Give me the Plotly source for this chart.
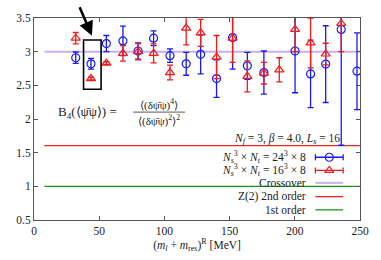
import plotly.graph_objects as go

# ---------------- data ----------------
mass_24 = [32, 43.7, 55.5, 68.2, 79.8, 91.7, 104.3, 116.7, 127.8, 140, 152.3, 163.6, 176.3, 200.2, 212.1, 223.7, 235.6, 247.7]
b4_24 = [2.91, 2.82, 3.12, 3.16, 3.01, 3.20, 2.94, 2.82, 2.96, 2.60, 3.21, 2.79, 2.69, 3.01, 2.67, 2.815, 3.33, 2.71]
err_24 = [0.085, 0.08, 0.12, 0.22, 0.12, 0.11, 0.10, 0.17, 0.29, 0.28, 0.47, 0.20, 0.32, 0.62, 0.50, 0.57, 1.72, 0.57]

mass_16 = [32, 43.7, 55.5, 68.2, 79.8, 91.7, 104.3, 116.7, 127.8, 140, 152.3, 163.6, 176.3, 188.1, 200.2, 212.1, 223.7, 235.6]
b4_16 = [3.20, 2.60, 2.83, 2.975, 3.00, 2.975, 2.69, 3.35, 3.28, 2.92, 3.20, 2.634, 2.68, 2.73, 3.33, 3.13, 2.965, 3.42]
err_16 = [0.085, 0.02, 0.02, 0.115, 0.12, 0.14, 0.11, 0.25, 0.20, 0.32, 0.36, 0.23, 0.16, 0.18, 0.33, 0.37, 0.16, 0.42]

ref_x = [8, 250]
crossover = 3.0
z2_second = 1.604
first_order = 1.0

x_ticks = [0, 50, 100, 150, 200, 250]
y_ticks = [0.5, 1, 1.5, 2, 2.5, 3, 3.5]
y_tick_text = ["0.5", "1", "1.5", "2", "2.5", "3", "3.5"]

BLUE = "rgb(25,25,255)"
RED = "rgb(245,25,25)"
PURPLE = "rgb(200,175,245)"
LRED = "rgb(235,40,40)"
GREEN = "rgb(30,150,30)"
FONT = "Liberation Serif"

# pixel geometry of the plot area
W, H = 381, 260
L, R, T, B = 34, 363, 17, 222


def px(x):
    return (x - L) / (R - L)


def py(y):
    return (B - y) / (B - T)


fig = go.Figure()

# reference lines
fig.add_trace(go.Scatter(x=ref_x, y=[crossover] * 2, mode="lines",
                         line=dict(color=PURPLE, width=2), showlegend=False, hoverinfo="skip"))
fig.add_trace(go.Scatter(x=ref_x, y=[z2_second] * 2, mode="lines",
                         line=dict(color=LRED, width=1.3), showlegend=False, hoverinfo="skip"))
fig.add_trace(go.Scatter(x=ref_x, y=[first_order] * 2, mode="lines",
                         line=dict(color=GREEN, width=1.3), showlegend=False, hoverinfo="skip"))

# data
fig.add_trace(go.Scatter(x=mass_24, y=b4_24, mode="markers",
                         marker=dict(symbol="circle-open", size=8, color=BLUE, line=dict(width=1.2)),
                         error_y=dict(type="data", array=err_24, color=BLUE, thickness=1.3, width=3),
                         showlegend=False))
fig.add_trace(go.Scatter(x=mass_16, y=b4_16, mode="markers",
                         marker=dict(symbol="triangle-up-open", size=8, color=RED, line=dict(width=1.2)),
                         error_y=dict(type="data", array=err_16, color=RED, thickness=1.3, width=3),
                         showlegend=False))

# ---- hand-made legend (text right, glyph on the right) ----
gx0, gx1, gxc = 318, 346, 332
fig.add_trace(go.Scatter(x=[px(gxc)], y=[py(158.3)], xaxis="x2", yaxis="y2", mode="markers",
                         marker=dict(symbol="circle-open", size=8, color=BLUE, line=dict(width=1.2)),
                         error_x=dict(type="constant", value=px(gx1) - px(gxc), color=BLUE, thickness=1.3, width=3),
                         showlegend=False, hoverinfo="skip"))
fig.add_trace(go.Scatter(x=[px(gxc)], y=[py(171.7)], xaxis="x2", yaxis="y2", mode="markers",
                         marker=dict(symbol="triangle-up-open", size=8, color=RED, line=dict(width=1.2)),
                         error_x=dict(type="constant", value=px(gx1) - px(gxc), color=RED, thickness=1.3, width=3),
                         showlegend=False, hoverinfo="skip"))

shapes = []
for yy, col, wd in [(184.3, PURPLE, 2), (198.3, LRED, 1.3), (211.7, GREEN, 1.3)]:
    shapes.append(dict(type="line", xref="paper", yref="paper", x0=px(gx0), x1=px(gx1),
                       y0=py(yy), y1=py(yy), line=dict(color=col, width=wd)))

# box around highlighted point
shapes.append(dict(type="rect", xref="paper", yref="paper", x0=px(84), x1=px(101.7),
                   y0=py(89.3), y1=py(39.3), line=dict(color="black", width=1.6)))
# fraction bar
shapes.append(dict(type="line", xref="paper", yref="paper", x0=px(134), x1=px(186.5),
                   y0=py(112.5), y1=py(112.5), line=dict(color="#333", width=0.8)))

tf = dict(family=FONT, size=11.5, color="#222")
annotations = []
legend_rows = [
    (140, "<i>N</i><sub><i>f</i></sub> = 3, <i>β</i> = 4.0, <i>L</i><sub><i>s</i></sub> = 16", 345),
    (158.3, "<i>N</i><sub><i>s</i></sub><sup>3</sup> × <i>N</i><sub><i>t</i></sub> = 24<sup>3</sup> × 8", 311),
    (171.7, "<i>N</i><sub><i>s</i></sub><sup>3</sup> × <i>N</i><sub><i>t</i></sub> = 16<sup>3</sup> × 8", 311),
    (184.3, "Crossover", 311),
    (198.3, "Z(2) 2nd order", 311),
    (211.7, "1st order", 311),
]
for yy, txt, xr in legend_rows:
    annotations.append(dict(xref="paper", yref="paper", x=px(xr), y=py(yy), text=txt,
                            xanchor="right", yanchor="middle", showarrow=False, font=tf))

# formula
annotations.append(dict(xref="paper", yref="paper", x=px(56), y=py(112.5),
                        text="B<sub>4</sub>(⟨ψ̄ψ⟩) =", xanchor="left", yanchor="middle",
                        showarrow=False, font=dict(family=FONT, size=13, color="#222")))
annotations.append(dict(xref="paper", yref="paper", x=px(160), y=py(105),
                        text="⟨(δψ̄ψ)<sup>4</sup>⟩", xanchor="center", yanchor="middle",
                        showarrow=False, font=dict(family=FONT, size=11, color="#222")))
annotations.append(dict(xref="paper", yref="paper", x=px(160), y=py(121),
                        text="⟨(δψ̄ψ)<sup>2</sup>⟩<sup>2</sup>", xanchor="center", yanchor="middle",
                        showarrow=False, font=dict(family=FONT, size=11, color="#222")))

# arrow
annotations.append(dict(xref="paper", yref="paper", x=px(92.5), y=py(35), ax=-13, ay=-30,
                        text="", showarrow=True, arrowhead=2, arrowsize=1.1, arrowwidth=2.6,
                        arrowcolor="black"))

fig.update_layout(
    width=W, height=H,
    margin=dict(l=L, r=W - R, t=T, b=H - B),
    paper_bgcolor="white", plot_bgcolor="white",
    font=dict(family=FONT, size=11.5, color="#222"),
    showlegend=False,
    shapes=shapes, annotations=annotations,
    xaxis=dict(range=[0, 250], tickvals=x_ticks, ticks="inside", ticklen=4, tickcolor="#555",
               showline=True, linecolor="#555", linewidth=1, mirror="allticks", showgrid=False,
               zeroline=False, tickfont=dict(size=11.5),
               title=dict(text="(<i>m</i><sub><i>l</i></sub> + <i>m</i><sub>res</sub>)<sup>R</sup> [MeV]",
                          standoff=3, font=dict(size=11.5))),
    yaxis=dict(range=[0.5, 3.5], tickvals=y_ticks, ticktext=y_tick_text,
               ticks="inside", ticklen=4, tickcolor="#555",
               showline=True, linecolor="#555", linewidth=1, mirror="allticks", showgrid=False,
               zeroline=False, tickfont=dict(size=11.5)),
    xaxis2=dict(range=[0, 1], overlaying="x", visible=False, fixedrange=True),
    yaxis2=dict(range=[0, 1], overlaying="y", visible=False, fixedrange=True),
)

fig.write_html("out.html", config={"displayModeBar": False},
               post_script="document.body.style.margin='0';document.body.style.overflow='hidden';")
